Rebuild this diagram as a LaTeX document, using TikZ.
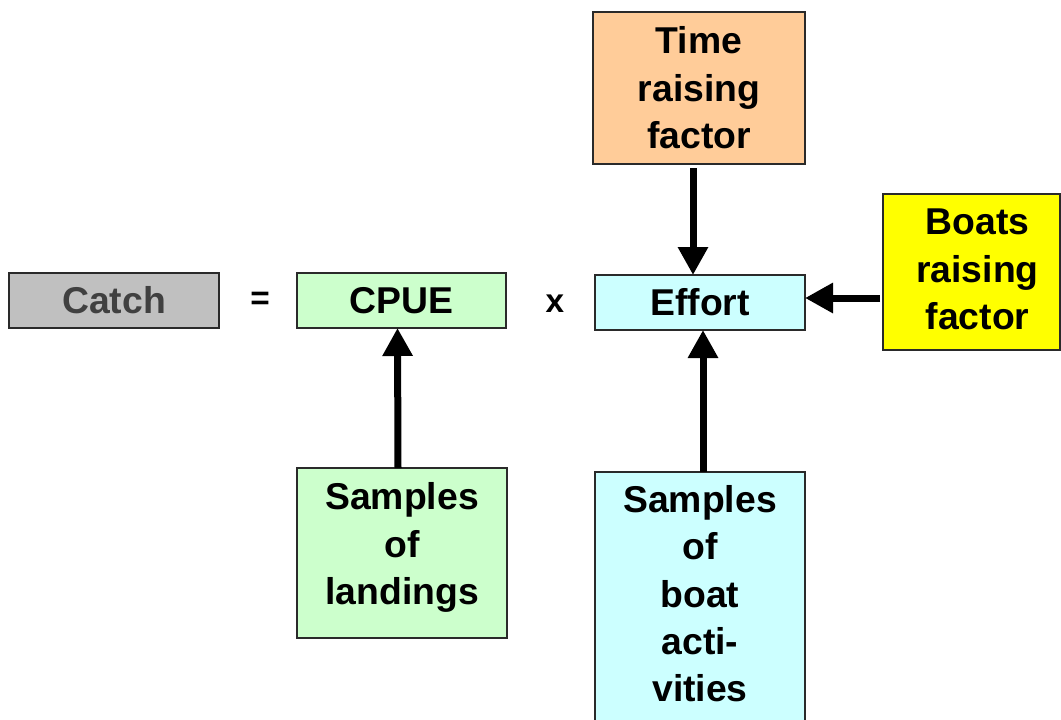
\documentclass[tikz,border=0pt]{standalone}
\usepackage{fontspec}
\setmainfont{Liberation Sans}
\usetikzlibrary{arrows.meta}

\definecolor{catchgray}{HTML}{C0C0C0}
\definecolor{catchtext}{HTML}{404040}
\definecolor{paleg}{HTML}{CCFFCC}
\definecolor{palec}{HTML}{CCFFFF}
\definecolor{paleo}{HTML}{FFCC99}
\definecolor{brightyel}{HTML}{FFFF00}
\definecolor{edgegray}{HTML}{2A2A2A}

\tikzset{
  boxtext/.style={inner sep=0pt, align=center, text=black,
    font=\fontsize{28}{35.6}\selectfont\bfseries},
  box/.style={boxtext, draw=edgegray, line width=1.1pt, outer sep=0pt},
  sym/.style={inner sep=0pt, font=\fontsize{25}{28}\selectfont\bfseries},
  flow/.style={line width=5.25pt, -{Triangle[length=21pt,width=21.5pt]}},
}

\begin{document}
\begin{tikzpicture}[x=0.75pt, y=-0.75pt]
  \useasboundingbox (0,0) rectangle (1061,719);

  % equation row
  \node[box, fill=catchgray, text=catchtext, minimum width=157.5pt, minimum height=41.25pt]
    (catch) at (114,300.5) {Catch};
  \node[sym] (eq) at (260,301) {=};
  \node[box, fill=paleg, minimum width=156.75pt, minimum height=41.25pt]
    (cpue) at (401.5,300.5) {CPUE};
  \node[sym] (times) at (555,304) {x};
  \node[box, fill=palec, minimum width=157.5pt, minimum height=41.25pt]
    (effort) at (700,302.5) {Effort};

  % inputs
  \node[box, fill=paleo, minimum width=159pt, minimum height=114pt]
    (time) at (699,88) {Time\\raising\\factor};
  \node[box, fill=brightyel, minimum width=132.75pt, minimum height=117pt,
    label={[boxtext, xshift=4.5pt, yshift=2pt]center:Boats\\raising\\factor}]
    (boats) at (971.5,272) {};
  \node[box, fill=paleg, minimum width=157.5pt, minimum height=127.5pt,
    label={[boxtext, yshift=4pt]center:Samples\\of\\landings}]
    (landings) at (402,553) {};
  \node[box, fill=palec, minimum width=157.5pt, minimum height=193.5pt,
    label={[boxtext, yshift=5.5pt]center:Samples\\of\\boat\\acti-\\vities}]
    (activities) at (700,601) {};

  % connectors
  \coordinate (timeend) at ([xshift=-5.25pt]effort.north);
  \coordinate (timestart) at (timeend |- time.south);
  \draw[flow] ([yshift=-3pt]timestart) -- (timeend);

  \coordinate (boatsstart) at ([xshift=-2.25pt]boats.west |- effort.east);
  \draw[flow] ([yshift=3.375pt]boatsstart) -- ([yshift=3.375pt]effort.east);

  \draw[flow] ([xshift=-3pt]landings.north) -- ([xshift=-3pt]cpue.south);
  \draw[flow] ([xshift=2.25pt]activities.north) -- ([xshift=2.25pt]effort.south);
\end{tikzpicture}
\end{document}
